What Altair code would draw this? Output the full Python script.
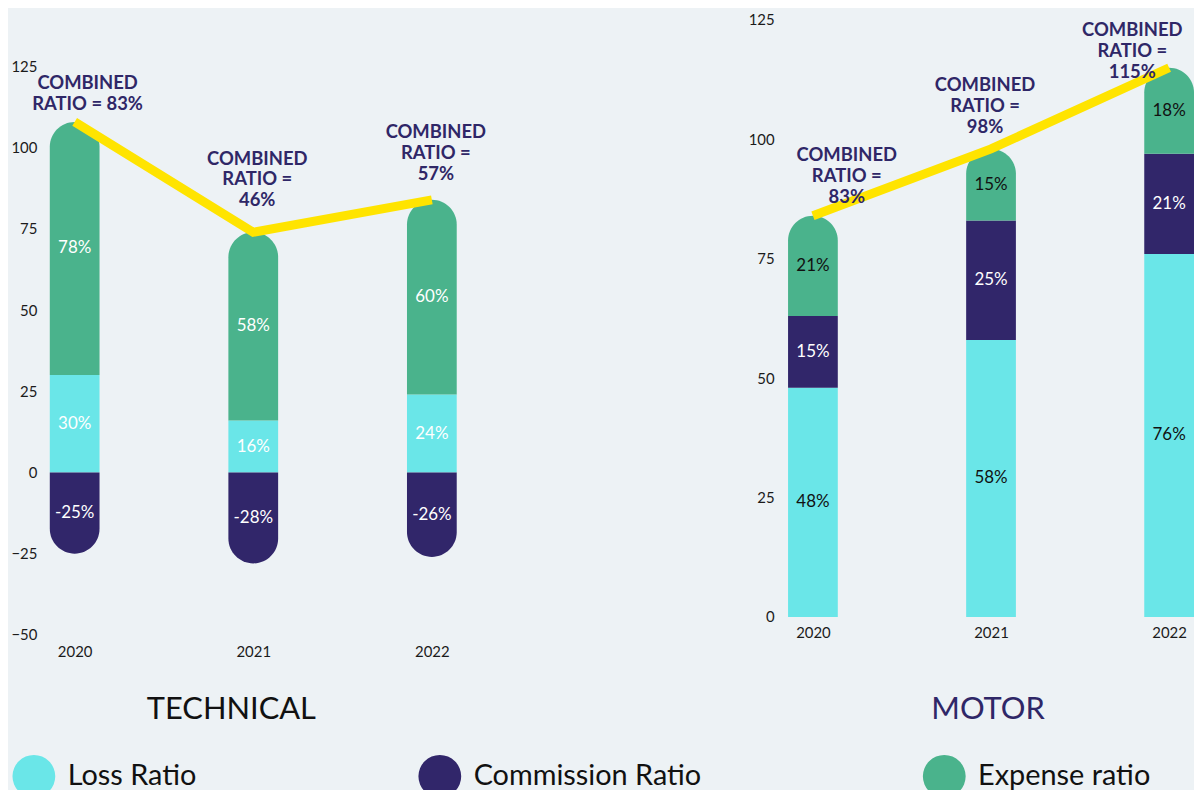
import altair as alt
import pandas as pd

FONT = "Lato"
years = ["2020", "2021", "2022"]
series = ["Loss Ratio", "Commission Ratio", "Expense ratio"]
palette = ["#6ae6e8", "#31266a", "#4ab38c"]

tech_loss = [30, 16, 24]
tech_commission = [-25, -28, -26]
tech_expense = [78, 58, 60]
tech_combined = [83, 46, 57]

motor_loss = [48, 58, 76]
motor_commission = [15, 25, 21]
motor_expense = [21, 15, 18]
motor_combined = [83, 98, 115]


def segments(loss, comm, exp, stacked_commission):
    rows = []
    for i, yr in enumerate(years):
        rows.append(dict(year=yr, type="Loss Ratio", v=loss[i], lo=0, hi=loss[i], cap="none"))
        if stacked_commission:
            rows.append(dict(year=yr, type="Commission Ratio", v=comm[i], lo=loss[i],
                             hi=loss[i] + comm[i], cap="none"))
            base = loss[i] + comm[i]
        else:
            rows.append(dict(year=yr, type="Commission Ratio", v=comm[i], lo=comm[i], hi=0, cap="bottom"))
            base = loss[i]
        rows.append(dict(year=yr, type="Expense ratio", v=exp[i], lo=base, hi=base + exp[i], cap="top"))
    df = pd.DataFrame(rows)
    df["mid"] = (df["lo"] + df["hi"]) / 2
    df["label"] = df["v"].astype(str) + "%"
    return df


def panel(df, combined, two_line_first, title, title_color, width, height, ydomain,
          xpad, ypad, title_offset, title_dx, combo_offsets, white_all, legend):
    tops = df[df["type"] == "Expense ratio"][["year", "hi"]].copy()
    texts = []
    for i, yr in enumerate(years):
        if i == 0 and two_line_first:
            t = f"COMBINED\nRATIO = {combined[i]}%"
        else:
            t = f"COMBINED\nRATIO =\n{combined[i]}%"
        texts.append(t)
    tops["text"] = texts

    x = alt.X("year:N", scale=alt.Scale(type="point", padding=0),
              axis=alt.Axis(title=None, labelAngle=0, ticks=False, domain=False,
                            labelPadding=xpad, labelFontSize=15, labelColor="#1b1b1b",
                            labelFont=FONT))
    yscale = alt.Scale(domain=ydomain, nice=False, zero=False)
    y = alt.Y("lo:Q", scale=yscale,
              axis=alt.Axis(title=None, values=list(range(int(ydomain[0]), 126, 25)),
                            grid=False, ticks=False, domain=False, labelPadding=ypad,
                            labelFontSize=15, labelColor="#1b1b1b", labelFont=FONT))
    color = alt.Color("type:N", scale=alt.Scale(domain=series, range=palette),
                      legend=legend)
    base = alt.Chart(df).encode(x=x)
    r = 25
    flat = base.transform_filter("datum.cap == 'none'").mark_bar(size=50).encode(
        y=y, y2="hi:Q", color=color)
    top = base.transform_filter("datum.cap == 'top'").mark_bar(
        size=50, cornerRadiusTopLeft=r, cornerRadiusTopRight=r).encode(y=y, y2="hi:Q", color=color)
    bottom = base.transform_filter("datum.cap == 'bottom'").mark_bar(
        size=50, cornerRadiusBottomLeft=r, cornerRadiusBottomRight=r).encode(
        y=y, y2="hi:Q", color=color)
    if white_all:
        tcolor = alt.value("#ffffff")
    else:
        tcolor = alt.condition("datum.type == 'Commission Ratio'", alt.value("#ffffff"),
                               alt.value("#111111"))
    seg_text = base.mark_text(font=FONT, fontSize=17).encode(
        y=alt.Y("mid:Q", scale=yscale), text="label:N", color=tcolor)

    line = alt.Chart(tops).mark_line(color="#ffe400", strokeWidth=9, strokeCap="butt").encode(
        x=alt.X("year:N", scale=alt.Scale(type="point", padding=0)),
        y=alt.Y("hi:Q", scale=yscale))
    labels = []
    for i, yr in enumerate(years):
        dx, dy = combo_offsets[i]
        labels.append(alt.Chart(tops).transform_filter(f"datum.year == '{yr}'").mark_text(
            font=FONT, fontSize=18.5, fontWeight="bold", color="#2f2767", lineBreak="\n",
            lineHeight=21, baseline="bottom", dx=dx, dy=dy).encode(
            x=alt.X("year:N", scale=alt.Scale(type="point", padding=0)),
            y=alt.Y("hi:Q", scale=yscale), text="text:N"))
    return alt.layer(flat, top, bottom, seg_text, line, *labels).properties(
        width=width, height=height,
        title=alt.TitleParams(title, orient="bottom", anchor="middle", frame="group",
                              font=FONT, fontSize=31, fontWeight="normal",
                              color=title_color, offset=title_offset, dx=title_dx))


tech_df = segments(tech_loss, tech_commission, tech_expense, stacked_commission=False)
motor_df = segments(motor_loss, motor_commission, motor_expense, stacked_commission=True)

legend = alt.Legend(title=None, orient="none", legendX=-63, legendY=738, direction="horizontal",
                    symbolType="circle", symbolSize=1850, symbolStrokeWidth=0, symbolOpacity=1,
                    labelFont=FONT, labelFontSize=29, labelColor="#111111", labelOffset=12,
                    columnPadding=222, labelLimit=400)

left = panel(tech_df, tech_combined, True, "TECHNICAL", "#111111", 359, 618, [-50, 139.4],
             10, 38, 36, -22, [(13, -29), (4, -64), (4, -58)], True, legend)
right = panel(motor_df, motor_combined, False, "MOTOR", "#2f2767", 358, 600, [0, 125],
              9, 39, 55, -3, [(34, -51), (-6, -54), (-37, -28)], False, legend)

chart = alt.hconcat(left, right, spacing=383, bounds="flush").properties(
    background="#edf2f5",
    padding={"left": 2, "top": 3, "right": 0, "bottom": 0},
).configure_view(stroke=None)

chart.save("out.html", embed_options={"renderer": "svg", "actions": False})
